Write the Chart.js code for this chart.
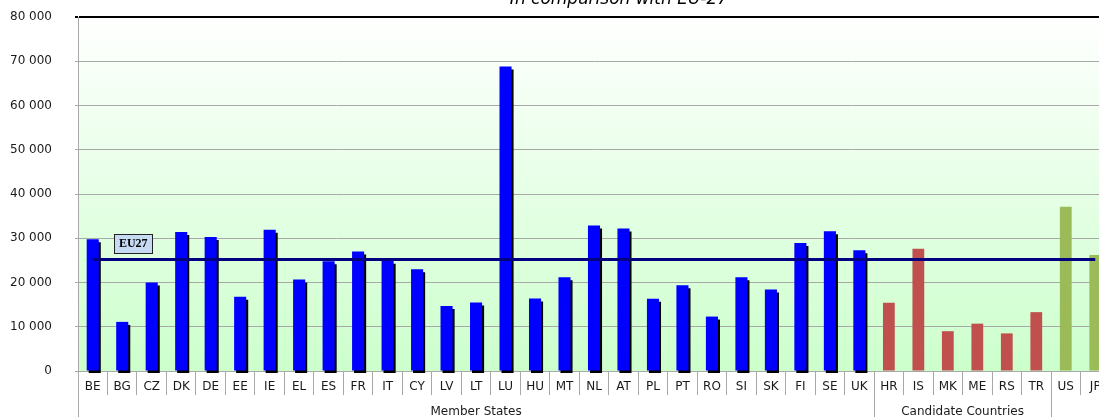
<!DOCTYPE html>
<html>
<head>
<meta charset="utf-8">
<script src="https://cdn.jsdelivr.net/npm/chart.js@4"></script>
<style>
  html, body { margin: 0; padding: 0; background: #fff; overflow: hidden; }
  #wrap { width: 1110px; height: 417px; }
</style>
</head>
<body>
<div id="wrap"><canvas id="chart" width="1110" height="417"></canvas></div>
<script>
// country codes per group
const memberCodes = ['BE','BG','CZ','DK','DE','EE','IE','EL','ES','FR','IT','CY','LV','LT','LU','HU','MT','NL','AT','PL','PT','RO','SI','SK','FI','SE','UK'];
const candidateCodes = ['HR','IS','MK','ME','RS','TR'];
const otherCodes = ['US','JP'];

// values
const memberValues = [29800, 11100, 20000, 31400, 30300, 16800, 31900, 20700, 24800, 27000, 24900, 23000, 14700, 15500, 68800, 16400, 21200, 32900, 32200, 16300, 19400, 12300, 21200, 18400, 28900, 31600, 27300];
const candidateValues = [15400, 27600, 9000, 10700, 8500, 13300];
const otherValues = [37100, 26200];
const eu27 = 25200;

const groupLabels = ['Member States', 'Candidate Countries', ''];
const groupSizes = [memberCodes.length, candidateCodes.length, otherCodes.length];
const yTicks = [0, 10000, 20000, 30000, 40000, 50000, 60000, 70000, 80000];

const categories = memberCodes.concat(candidateCodes, otherCodes);
const pairs = (codes, vals) => codes.map((c, i) => ({ x: c, y: vals[i] }));

Chart.defaults.font.family = 'DejaVu Sans';
Chart.defaults.font.size = 12;
Chart.defaults.color = '#1a1a1a';

const gridGray = '#a8a8a8';

// bar shadow only for the member states
const shadowPlugin = {
  id: 'shadow',
  beforeDatasetDraw(chart, args) {
    if (args.index !== 0) return;
    const ctx = chart.ctx;
    ctx.save();
    ctx.shadowColor = '#000';
    ctx.shadowOffsetX = 2;
    ctx.shadowOffsetY = 3;
    ctx.shadowBlur = 0;
  },
  afterDatasetDraw(chart, args) {
    if (args.index !== 0) return;
    chart.ctx.restore();
  }
};

const decorPlugin = {
  id: 'decor',
  beforeDraw(chart) {
    const { ctx, chartArea: a } = chart;
    const g = ctx.createLinearGradient(0, a.top, 0, a.bottom);
    g.addColorStop(0, '#ffffff');
    g.addColorStop(1, '#ccffcc');
    ctx.save();
    ctx.fillStyle = g;
    ctx.fillRect(a.left, a.top, a.right - a.left, a.bottom - a.top);
    ctx.restore();
  },
  afterDraw(chart) {
    const { ctx, chartArea: a, scales } = chart;
    const x = scales.x, y = scales.y;
    const H = chart.height;
    const half = (x.getPixelForValue(1) - x.getPixelForValue(0)) / 2;
    ctx.save();

    // group separators and group labels
    ctx.strokeStyle = gridGray;
    ctx.lineWidth = 1;
    let start = 0;
    const bounds = [x.getPixelForValue(0) - half];
    groupSizes.forEach(n => { start += n; bounds.push(x.getPixelForValue(start - 1) + half); });
    bounds.forEach(bx => {
      const px = Math.round(bx) + 0.5;
      ctx.beginPath();
      ctx.moveTo(px, a.bottom);
      ctx.lineTo(px, H);
      ctx.stroke();
    });
    ctx.fillStyle = '#1a1a1a';
    ctx.font = '12px "DejaVu Sans"';
    ctx.textAlign = 'center';
    ctx.textBaseline = 'middle';
    groupLabels.forEach((lab, i) => {
      if (lab) ctx.fillText(lab, (bounds[i] + bounds[i + 1]) / 2, 412);
    });

    // EU27 label box
    const bx = x.getPixelForValue(1) + 11;
    const by = y.getPixelForValue(eu27) - 16;
    ctx.fillStyle = '#c6dbf3';
    ctx.fillRect(bx - 19, by - 9.5, 38, 19);
    ctx.strokeStyle = '#222';
    ctx.strokeRect(Math.round(bx - 19) + 0.5, Math.round(by - 9.5) + 0.5, 38, 19);
    ctx.fillStyle = '#000';
    ctx.font = 'bold 12px "Liberation Serif"';
    ctx.fillText('EU27', bx, by + 0.5);

    // title, cut at the top edge
    ctx.font = 'italic 17px "DejaVu Sans"';
    ctx.textBaseline = 'alphabetic';
    ctx.fillText('In comparison with EU-27', 619, 4);
    ctx.restore();
  }
};

new Chart(document.getElementById('chart'), {
  data: {
    labels: categories,
    datasets: [
      {
        type: 'bar',
        label: 'Member States',
        data: pairs(memberCodes, memberValues),
        backgroundColor: '#0000ff',
        grouped: false,
        categoryPercentage: 1,
        barPercentage: 0.41,
        clip: 2,
        order: 2
      },
      {
        type: 'bar',
        label: 'Candidate Countries',
        data: pairs(candidateCodes, candidateValues),
        backgroundColor: '#c0504d',
        grouped: false,
        categoryPercentage: 1,
        barPercentage: 0.4,
        order: 2
      },
      {
        type: 'bar',
        label: 'Others',
        data: pairs(otherCodes, otherValues),
        backgroundColor: '#9bbb59',
        grouped: false,
        categoryPercentage: 1,
        barPercentage: 0.4,
        order: 2
      },
      {
        type: 'line',
        label: 'EU27',
        data: [{ x: categories[0], y: eu27 }, { x: categories[categories.length - 1], y: eu27 }],
        borderColor: '#000080',
        borderWidth: 3,
        pointRadius: 0,
        order: 0
      }
    ]
  },
  options: {
    responsive: false,
    animation: false,
    devicePixelRatio: 1,
    layout: { padding: { top: 17, left: 0, right: 0, bottom: 0 } },
    plugins: { legend: { display: false }, tooltip: { enabled: false }, title: { display: false } },
    scales: {
      x: {
        type: 'category',
        offset: true,
        afterFit: s => { s.height = 46; s.paddingLeft = 0; s.paddingRight = 0; },
        grid: { display: true, drawOnChartArea: false, drawTicks: true, tickLength: 24, offset: true, color: gridGray },
        border: { display: true, color: gridGray },
        ticks: { autoSkip: false, maxRotation: 0, padding: -15, font: { size: 12 } }
      },
      y: {
        min: 0,
        max: 80000,
        afterFit: s => { s.width = 78; s.paddingTop = 0; s.paddingBottom = 0; },
        afterBuildTicks: s => { s.ticks = yTicks.map(v => ({ value: v })); },
        grid: {
          color: c => (c.tick && c.tick.value === 80000 ? '#000' : gridGray),
          lineWidth: c => (c.tick && c.tick.value === 80000 ? 2 : 1),
          tickLength: 3
        },
        border: { display: true, color: gridGray },
        ticks: {
          padding: 23,
          font: { size: 12 },
          callback: v => String(v).replace(/\B(?=(\d{3})+(?!\d))/g, ' ')
        }
      }
    }
  },
  plugins: [shadowPlugin, decorPlugin]
});
</script>
</body>
</html>
